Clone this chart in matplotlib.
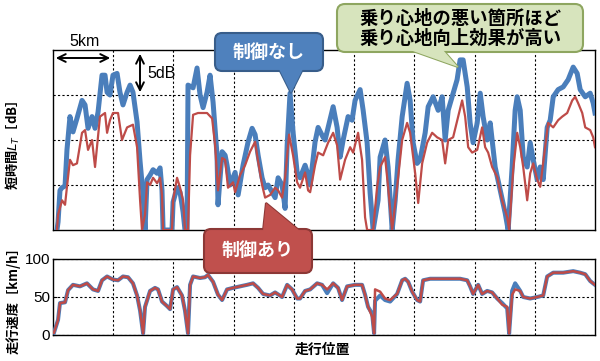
import matplotlib
matplotlib.use("Agg")
import matplotlib.pyplot as plt
from matplotlib.patches import FancyBboxPatch, Polygon

plt.rcParams['font.family'] = ['Liberation Sans', 'Noto Sans CJK JP', 'DejaVu Sans']
JP = ['Noto Sans CJK JP', 'DejaVu Sans']

# ---------------- data ----------------
# short-time Lt (relative dB), without control (blue)
lt_off_km = [0.33, 0.42, 0.58, 0.75, 1.00, 1.16, 1.41, 1.66, 1.99, 2.41, 2.66, 2.91, 3.24, 3.49, 3.74,
             4.07, 4.32, 4.49, 4.73, 4.98, 5.32, 5.56, 5.81, 6.15, 6.40, 6.64, 6.98, 7.23, 7.48, 7.64,
             7.81, 8.06, 8.31, 8.64, 8.89, 9.05, 9.14, 9.88, 9.97, 10.30, 10.55, 10.80, 10.96, 11.13,
             11.21, 11.63, 11.96, 12.21, 12.46, 12.79, 13.04, 13.29, 13.62, 13.70, 14.04, 14.29, 14.45,
             14.70, 15.12, 15.37, 15.78, 16.20, 16.53, 16.78, 17.03, 17.36, 17.61, 17.86, 18.19, 18.44,
             18.69, 19.02, 19.27, 19.44, 19.68, 19.93, 20.27, 20.51, 20.93, 21.18, 21.35, 21.76, 22.01,
             22.43, 22.59, 22.84, 23.26, 23.59, 23.84, 24.09, 24.50, 24.83, 25.08, 25.50, 25.75, 26.08,
             26.33, 26.58, 26.99, 27.16, 27.57, 27.82, 28.16, 28.41, 28.65, 28.99, 29.40, 29.65, 29.90,
             30.23, 30.48, 30.90, 31.15, 31.56, 31.98, 32.31, 32.56, 32.81, 33.14, 33.55, 33.80, 34.05,
             34.39, 34.63, 34.88, 35.22, 35.47, 35.71, 36.05, 36.30, 36.71, 37.13, 37.54, 37.79, 38.12,
             38.37, 38.54, 38.79, 39.04, 39.37, 39.62, 39.87, 40.20, 40.45, 40.70, 41.03, 41.28, 41.53,
             41.94, 42.36, 42.77, 43.19, 43.52, 43.77, 44.19, 44.60, 44.85, 45.00]
lt_off_db = [0.0, 0.9, 4.4, 4.7, 4.9, 8.9, 12.6, 10.9, 12.4, 14.4, 13.9, 11.3, 12.6, 11.3, 13.1,
             17.2, 17.2, 15.3, 15.0, 17.2, 17.4, 15.3, 13.9, 15.3, 16.1, 15.3, 12.0, 7.6, 3.9, 0.0,
             5.6, 6.1, 6.7, 6.3, 6.9, 4.4, 0.0, 0.0, 3.1, 4.7, 4.2, 2.0, 0.0, 0.0,
             16.1, 15.8, 18.0, 15.0, 13.6, 15.3, 17.2, 14.2, 8.3, 2.8, 8.7, 8.3, 7.2,
             5.0, 6.4, 3.9, 7.2, 9.8, 11.3, 10.6, 8.3, 5.8, 4.7, 5.0, 4.2, 3.6,
             5.8, 5.0, 2.4, 9.4, 15.2, 10.9, 6.4, 5.8, 7.2, 6.1, 5.0, 9.8, 11.4,
             10.3, 10.0, 11.4, 13.7, 11.4, 8.1, 10.0, 12.6, 12.2, 14.4, 15.6, 13.3, 9.7,
             4.1, 0.0, 3.3, 8.1, 10.0, 7.0, 0.0, 3.3, 7.8, 12.6, 16.3, 14.4, 9.7,
             7.4, 7.8, 10.8, 13.7, 14.8, 13.3, 14.8, 10.0, 13.3, 14.8, 16.7, 18.9, 18.9,
             15.9, 11.9, 9.7, 11.9, 15.2, 12.6, 10.0, 11.9, 7.0, 4.4, 1.9, 0.0, 7.0,
             13.3, 14.8, 13.3, 8.1, 7.0, 9.7, 7.8, 5.6, 7.0, 5.6, 11.4, 12.2, 14.8,
             15.6, 15.9, 16.7, 18.1, 17.4, 15.6, 14.8, 15.2, 14.1, 13.0]

# short-time Lt (relative dB), with control (red)
lt_on_km = [0.33, 0.42, 0.75, 1.00, 1.16, 1.41, 1.66, 1.99, 2.41, 2.66, 2.91, 3.24, 3.49, 3.90, 4.32,
            4.49, 4.73, 4.98, 5.40, 5.73, 6.15, 6.64, 6.98, 7.23, 7.39, 7.64, 7.81, 8.06, 8.31, 8.64,
            8.89, 9.05, 9.14, 9.88, 9.97, 10.30, 10.55, 10.80, 10.96, 11.21, 11.38, 11.63, 12.04, 12.79,
            13.21, 13.46, 13.70, 14.04, 14.29, 14.53, 14.95, 15.12, 15.53, 15.95, 16.36, 16.78, 17.03,
            17.36, 17.61, 18.03, 18.44, 18.69, 19.02, 19.27, 19.60, 19.93, 20.27, 20.51, 20.93, 21.18,
            21.35, 21.76, 22.01, 22.43, 22.84, 23.26, 23.59, 23.84, 24.25, 24.67, 24.92, 25.33, 25.66,
            25.91, 26.08, 26.58, 26.91, 27.16, 27.57, 27.82, 28.16, 28.57, 28.99, 29.40, 29.65, 30.07,
            30.32, 30.65, 31.06, 31.48, 31.89, 32.31, 32.56, 32.81, 33.22, 33.64, 33.97, 34.22, 34.47,
            34.80, 35.22, 35.63, 35.88, 36.13, 36.46, 36.88, 37.29, 37.71, 37.87, 38.21, 38.54, 38.79,
            39.04, 39.37, 39.62, 39.87, 40.20, 40.45, 40.86, 41.11, 41.53, 41.94, 42.28, 42.69, 43.11,
            43.36, 43.60, 43.94, 44.19, 44.60, 44.85, 45.00]
lt_on_db = [0.0, 1.7, 3.3, 2.8, 4.8, 7.8, 7.2, 7.4, 10.8, 11.1, 8.9, 10.0, 7.0, 12.6, 13.0,
            10.8, 12.2, 13.0, 13.0, 10.0, 11.4, 11.7, 9.2, 3.3, 0.0, 1.7, 5.3, 5.0, 5.8, 5.2,
            5.8, 3.9, 0.0, 0.0, 3.3, 5.8, 4.7, 3.3, 0.0, 0.0, 8.3, 12.8, 13.0, 13.0,
            12.4, 9.4, 4.4, 8.0, 7.8, 4.7, 5.3, 4.2, 6.1, 7.2, 8.7, 9.8, 7.6,
            5.0, 3.6, 3.9, 4.7, 4.4, 3.6, 5.8, 10.6, 8.3, 5.3, 4.7, 6.4, 4.4,
            4.2, 7.2, 8.6, 8.3, 9.7, 10.8, 9.4, 5.6, 7.8, 9.2, 8.6, 10.8, 7.8,
            1.4, 0.0, 0.0, 4.8, 7.0, 8.1, 4.8, 0.0, 4.8, 10.0, 11.9, 10.8, 6.3,
            3.0, 7.4, 9.7, 10.8, 10.3, 10.0, 7.4, 10.0, 10.3, 12.6, 14.4, 12.6, 9.2,
            8.6, 8.9, 11.4, 9.2, 8.6, 7.0, 5.9, 3.3, 1.4, 0.0, 6.7, 10.8, 9.2,
            7.0, 3.3, 6.3, 7.4, 5.6, 4.8, 9.2, 11.9, 11.4, 12.2, 12.6, 13.0, 14.4,
            14.8, 14.1, 13.0, 11.4, 11.1, 10.3, 9.2]

# running speed [km/h]
speed_km = [0.08, 0.42, 0.58, 1.00, 1.25, 1.66, 2.24, 2.82, 3.32, 3.74, 4.07, 4.49, 4.98, 5.40, 5.81,
            6.23, 6.64, 6.98, 7.23, 7.48, 7.64, 8.06, 8.47, 8.72, 9.05, 9.47, 9.72, 9.97, 10.30, 10.71,
            10.96, 11.21, 11.38, 11.63, 12.21, 12.62, 12.87, 13.29, 13.70, 14.04, 14.45, 14.95, 15.53,
            16.11, 16.61, 17.03, 17.44, 18.02, 18.44, 19.02, 19.44, 19.85, 20.27, 20.51, 20.93, 21.35,
            21.93, 22.34, 22.76, 23.26, 23.67, 24.00, 24.42, 25.08, 25.66, 25.91, 26.16, 26.50, 26.66,
            26.74, 27.16, 27.57, 27.99, 28.57, 28.99, 29.24, 29.49, 29.82, 30.23, 30.48, 30.73, 31.31,
            32.14, 32.97, 33.80, 34.39, 34.63, 34.88, 35.30, 35.63, 36.05, 36.46, 36.88, 37.29, 37.71,
            37.87, 38.12, 38.37, 38.79, 39.04, 39.62, 40.20, 40.70, 41.03, 41.53, 42.36, 43.19, 43.77,
            44.19, 44.60, 45.00]
speed_off = [3, 20, 42, 43, 59, 66, 64, 68, 60, 58, 72, 77, 73, 72, 77,
             76, 68, 52, 32, 2, 37, 58, 62, 60, 44, 38, 34, 60, 63, 52,
             32, 2, 66, 77, 75, 76, 79, 70, 53, 46, 60, 62, 64,
             66, 68, 62, 54, 52, 56, 50, 66, 60, 48, 48, 58, 60,
             68, 66, 55, 68, 62, 46, 64, 66, 66, 53, 37, 28, 2,
             45, 52, 46, 44, 54, 72, 74, 70, 57, 46, 44, 72, 74,
             74, 74, 74, 72, 64, 54, 66, 54, 58, 56, 48, 42, 35,
             2, 58, 68, 58, 50, 48, 50, 52, 77, 82, 82, 84, 82,
             80, 71, 66]
speed_on = [3, 20, 42, 43, 59, 66, 64, 68, 60, 58, 72, 77, 73, 72, 77,
            76, 68, 52, 32, 2, 37, 58, 62, 60, 44, 38, 34, 60, 63, 52,
            32, 2, 66, 77, 75, 76, 79, 70, 53, 46, 60, 62, 64,
            66, 68, 62, 54, 52, 56, 50, 66, 60, 48, 48, 58, 60,
            68, 66, 60, 68, 62, 46, 64, 66, 66, 53, 37, 24, 2,
            60, 57, 48, 46, 54, 72, 74, 70, 57, 46, 44, 72, 74,
            74, 74, 74, 72, 64, 54, 66, 54, 58, 56, 48, 40, 37,
            2, 53, 60, 58, 50, 48, 50, 52, 77, 82, 82, 84, 82,
            80, 71, 66]

grid_km = [5, 10, 15, 20, 25, 30, 35, 40]
lt_grid = [5, 10, 15]
speed_ticks = [0, 50, 100]
speed_ticklabels = ['0', '50', '100']

BLUE = '#4A7EBB'
RED = '#BE4B48'

# ---------------- figure ----------------
fig = plt.figure(figsize=(6.0, 3.61), dpi=100)
W, H = 600, 361

def rect(l, t, r, b):
    return [l / W, 1 - b / H, (r - l) / W, (b - t) / H]

ax1 = fig.add_axes(rect(53, 50, 595, 230))
ax1.plot(lt_off_km, lt_off_db, color=BLUE, lw=3.6, solid_joinstyle='round', zorder=3)
ax1.plot(lt_on_km, lt_on_db, color=RED, lw=1.6, zorder=4)
ax1.set_xlim(0, 45)
ax1.set_ylim(0, 20)
ax1.set_xticks(grid_km)
ax1.set_yticks(lt_grid)
ax1.set_xticklabels([])
ax1.set_yticklabels([])
ax1.tick_params(length=0)
ax1.grid(True, color='black', ls=(0, (2, 2)), lw=0.8)
for s in ax1.spines.values():
    s.set_linewidth(1.0)

ax2 = fig.add_axes(rect(53, 259, 595, 335))
ax2.plot(speed_km, speed_off, color=BLUE, lw=2.9, solid_joinstyle='round', zorder=3)
ax2.plot(speed_km, speed_on, color=RED, lw=1.8, zorder=4)
ax2.set_xlim(0, 45)
ax2.set_ylim(0, 100)
ax2.set_xticks(grid_km)
ax2.set_xticklabels([])
ax2.set_yticks(speed_ticks)
ax2.set_yticklabels(speed_ticklabels, fontsize=11)
ax2.tick_params(axis='x', length=0)
ax2.tick_params(axis='y', length=3, direction='in', pad=2)
ax2.grid(True, color='black', ls=(0, (2, 2)), lw=0.8)
for s in ax2.spines.values():
    s.set_linewidth(1.0)

# ---------------- overlay annotations (pixel coords) ----------------
ov = fig.add_axes([0, 0, 1, 1])
ov.set_xlim(0, W)
ov.set_ylim(H, 0)
ov.axis('off')
ov.patch.set_alpha(0)

ov.text(13, 145, '短時間$L_T$［dB］', rotation=90, ha='center', va='center',
        fontfamily=JP, fontweight='bold', fontsize=9.5)
ov.text(13, 297, '走行速度［km/h］', rotation=90, ha='center', va='center',
        fontfamily=JP, fontweight='bold', fontsize=9.5)
ov.text(322, 350, '走行位置', ha='center', va='center',
        fontfamily=JP, fontweight='bold', fontsize=10)

# 5 km arrow
ov.annotate('', xy=(53, 58), xytext=(113, 58),
            arrowprops=dict(arrowstyle='<->', lw=1.4, color='black', mutation_scale=14))
ov.text(85, 42, '5km', ha='center', va='center', fontsize=11.5)
# 5 dB arrow
ov.annotate('', xy=(140, 51), xytext=(140, 95),
            arrowprops=dict(arrowstyle='<->', lw=1.4, color='black', mutation_scale=14))
ov.text(147, 74, '5dB', ha='left', va='center', fontsize=11.5)


def callout(box, tri, fc, ec, text, tc, fs, r=7, ls=1.0):
    l, t, rr, b = box
    ov.add_patch(Polygon(tri, closed=True, fc=fc, ec=ec, lw=1.5, zorder=5))
    ov.add_patch(FancyBboxPatch((l, t), rr - l, b - t,
                                boxstyle='round,pad=0,rounding_size=%g' % r,
                                fc=fc, ec=ec, lw=1.5, zorder=6))
    ov.add_patch(Polygon(tri, closed=True, fc=fc, ec='none', zorder=7))
    ov.text((l + rr) / 2, (t + b) / 2, text, ha='center', va='center', color=tc,
            fontsize=fs, fontfamily=JP, fontweight='bold', linespacing=ls, zorder=8)

callout((215, 33, 323, 71), [(279, 69), (303, 69), (291, 93)],
        '#4F81BD', '#385D8A', '制御なし', 'white', 13)
callout((204, 229, 312, 273), [(263, 231), (266, 203), (300, 231)],
        '#C0504D', '#8C3836', '制御あり', 'white', 13)
callout((337, 4, 583, 52), [(410, 50), (443, 50), (458, 67)],
        '#D7E4BD', '#8EA660', '乗り心地の悪い箇所ほど\n乗り心地向上効果が高い', 'black', 13.2,
        r=8, ls=1.05)

fig.savefig('out.png', dpi=100)
